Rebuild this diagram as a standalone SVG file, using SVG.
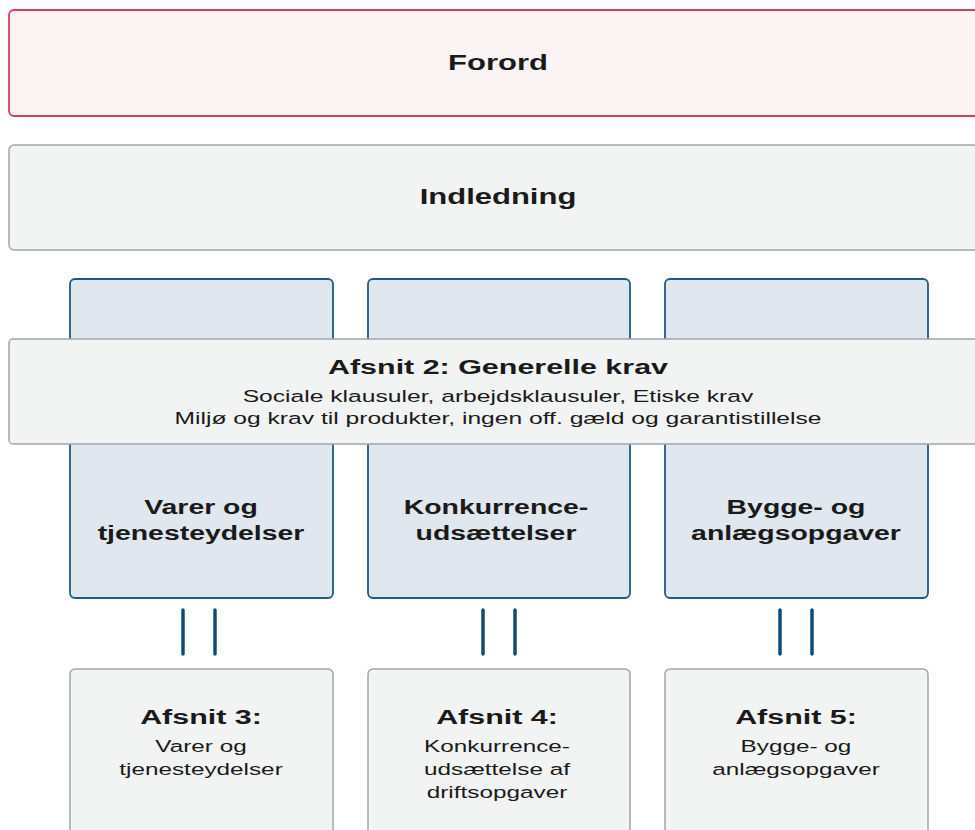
<svg xmlns="http://www.w3.org/2000/svg" width="975" height="830" viewBox="0 0 975 830">
<style>
text{font-family:"Liberation Sans",Arial,sans-serif;fill:#1a1a1a;text-anchor:middle}
.b{font-weight:bold}
.gray{fill:#f2f3f3;stroke:#a3a7aa;stroke-width:1.5}
.col{fill:#e0e7ef;stroke:#1f5a80;stroke-width:1.8}
.conn{stroke:#0f4c75;stroke-width:3.5;stroke-linecap:round}
</style>
<rect width="975" height="830" fill="#ffffff"/>
<g id="forord">
<rect x="9" y="10" width="980" height="106" rx="5" fill="#faf4f5" stroke="#d2405c" stroke-width="1.8"/>
<text class="b" font-size="22" transform="translate(498,70) scale(1.41,1)">Forord</text>
</g>
<g id="indledning">
<rect class="gray" x="9" y="145" width="980" height="105" rx="5"/>
<text class="b" font-size="22" transform="translate(498,204) scale(1.41,1)">Indledning</text>
</g>
<g id="col1">
<rect class="col" x="70" y="279" width="263" height="319" rx="5"/>
<text class="b" font-size="20" transform="translate(201,514) scale(1.42,1)">Varer og</text>
<text class="b" font-size="20" transform="translate(201,540) scale(1.42,1)">tjenesteydelser</text>
</g>
<g id="col2">
<rect class="col" x="368" y="279" width="262" height="319" rx="5"/>
<text class="b" font-size="20" transform="translate(496,514) scale(1.42,1)">Konkurrence-</text>
<text class="b" font-size="20" transform="translate(496,540) scale(1.42,1)">udsættelser</text>
</g>
<g id="col3">
<rect class="col" x="665" y="279" width="263" height="319" rx="5"/>
<text class="b" font-size="20" transform="translate(796,514) scale(1.42,1)">Bygge- og</text>
<text class="b" font-size="20" transform="translate(796,540) scale(1.42,1)">anlægsopgaver</text>
</g>
<g id="afsnit2">
<rect class="gray" x="9" y="339" width="980" height="105" rx="4"/>
<text class="b" font-size="21" transform="translate(498,374) scale(1.45,1)">Afsnit 2: Generelle krav</text>
<text font-size="17" transform="translate(498,402) scale(1.45,1)">Sociale klausuler, arbejdsklausuler, Etiske krav</text>
<text font-size="17" transform="translate(498,424) scale(1.45,1)">Miljø og krav til produkter, ingen off. gæld og garantistillelse</text>
</g>
<g id="connectors">
<line class="conn" x1="183" y1="610" x2="183" y2="654"/>
<line class="conn" x1="215" y1="610" x2="215" y2="654"/>
<line class="conn" x1="483" y1="610" x2="483" y2="654"/>
<line class="conn" x1="515" y1="610" x2="515" y2="654"/>
<line class="conn" x1="780" y1="610" x2="780" y2="654"/>
<line class="conn" x1="812" y1="610" x2="812" y2="654"/>
</g>
<g id="afsnit3">
<rect class="gray" x="70" y="669" width="263" height="180" rx="5"/>
<text class="b" font-size="21" transform="translate(201,724) scale(1.45,1)">Afsnit 3:</text>
<text font-size="17" transform="translate(201,752) scale(1.43,1)">Varer og</text>
<text font-size="17" transform="translate(201,775) scale(1.43,1)">tjenesteydelser</text>
</g>
<g id="afsnit4">
<rect class="gray" x="368" y="669" width="262" height="180" rx="5"/>
<text class="b" font-size="21" transform="translate(497,724) scale(1.45,1)">Afsnit 4:</text>
<text font-size="17" transform="translate(497,752) scale(1.43,1)">Konkurrence-</text>
<text font-size="17" transform="translate(497,775) scale(1.43,1)">udsættelse af</text>
<text font-size="17" transform="translate(497,798) scale(1.43,1)">driftsopgaver</text>
</g>
<g id="afsnit5">
<rect class="gray" x="665" y="669" width="263" height="180" rx="5"/>
<text class="b" font-size="21" transform="translate(796,724) scale(1.45,1)">Afsnit 5:</text>
<text font-size="17" transform="translate(796,752) scale(1.43,1)">Bygge- og</text>
<text font-size="17" transform="translate(796,775) scale(1.43,1)">anlægsopgaver</text>
</g>
</svg>
